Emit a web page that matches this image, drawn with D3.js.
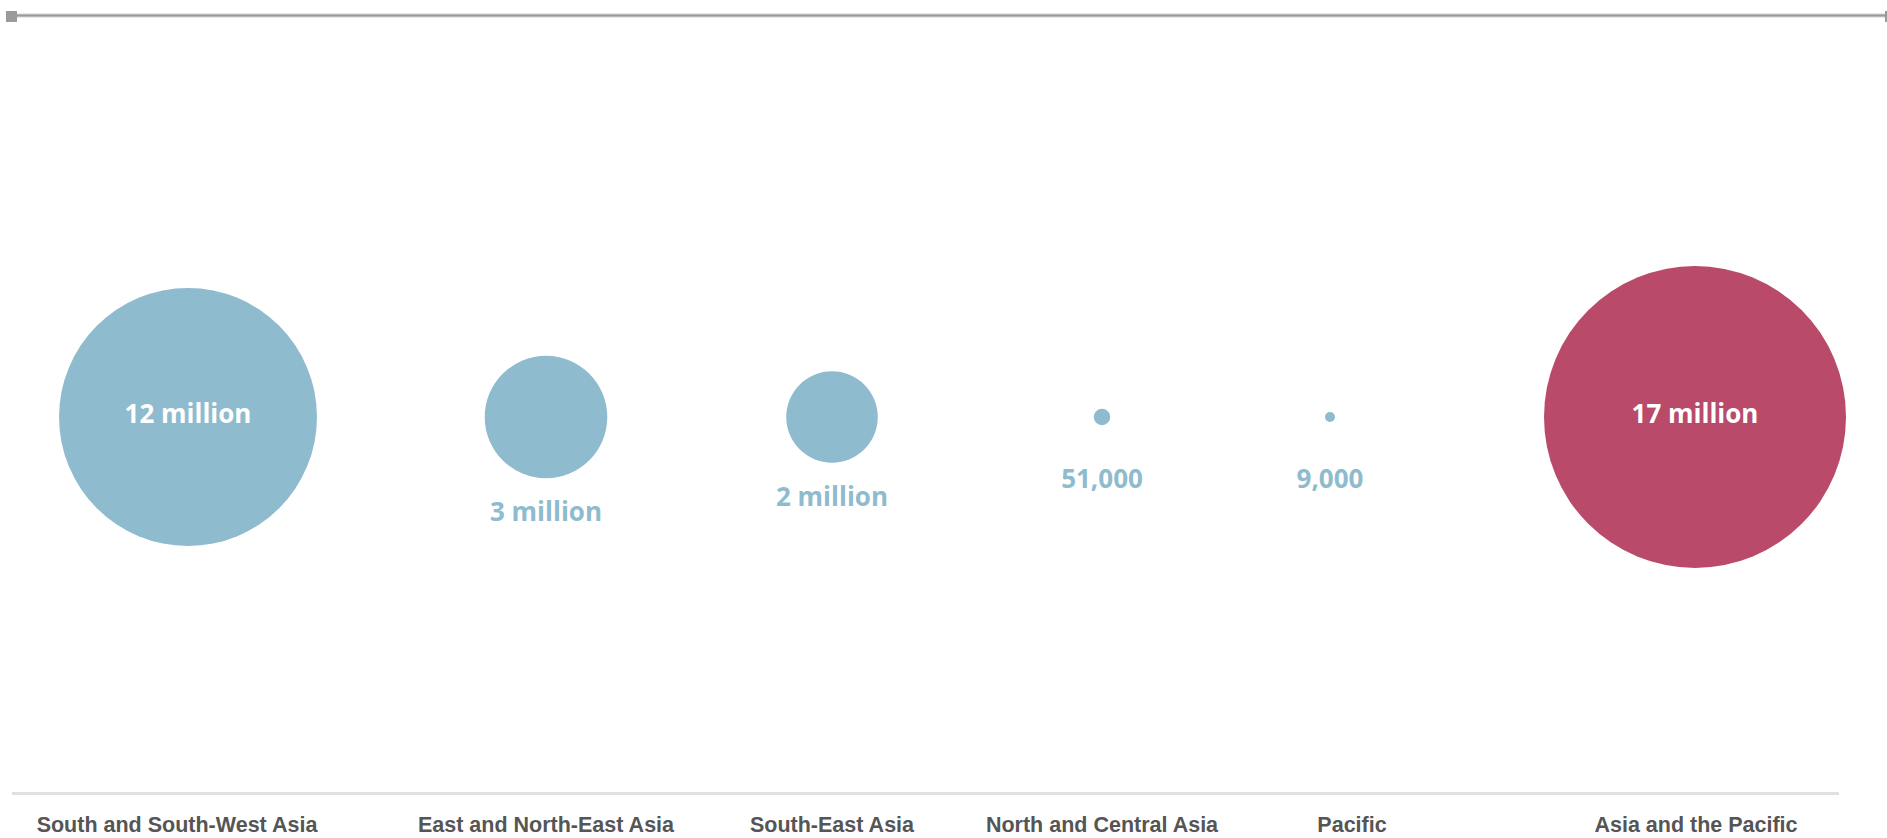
<!DOCTYPE html>
<html>
<head>
<meta charset="utf-8">
<script src="https://cdn.jsdelivr.net/npm/d3@7/dist/d3.min.js"></script>
<style>
  html, body { margin: 0; padding: 0; background: #fff; }
  svg { display: block; }
</style>
</head>
<body>
<svg id="chart" width="1887" height="838"></svg>
<script>
// ---- data ----
const categories = ["South and South-West Asia", "East and North-East Asia", "South-East Asia", "North and Central Asia", "Pacific", "Asia and the Pacific"];
const values = [12400000, 2800000, 1560000, 51000, 9000, 17000000];
const valueLabels = ["12 million", "3 million", "2 million", "51,000", "9,000", "17 million"];
const isTotal = [false, false, false, false, false, true];

// ---- layout ----
const W = 1887, H = 838;
const cy = 417;
const svg = d3.select("#chart");

const xCircle = d3.scaleOrdinal().domain(categories).range([188, 546, 832, 1102, 1330, 1695]);
const xLabel = d3.scaleOrdinal().domain(categories).range([177, 546, 832, 1102, 1352, 1696]);
const rScale = d3.scaleSqrt().domain([0, d3.max(values)]).range([0, 151]);
const rOf = v => Math.max(rScale(v), 5);
const color = d => d ? "#b94a69" : "#8fbbce";

const data = categories.map((c, i) => ({ cat: c, value: values[i], label: valueLabels[i], total: isTotal[i] }));

// top rule
svg.append("line").attr("x1", 12).attr("x2", 1886).attr("y1", 15.5).attr("y2", 15.5)
  .attr("stroke", "#d2d2d2").attr("stroke-width", 4);
svg.append("line").attr("x1", 12).attr("x2", 1886).attr("y1", 15.5).attr("y2", 15.5)
  .attr("stroke", "#9a9a9a").attr("stroke-width", 2);
svg.append("rect").attr("x", 6).attr("y", 11).attr("width", 11).attr("height", 11).attr("fill", "#9a9a9a");
svg.append("rect").attr("x", 1885).attr("y", 11).attr("width", 2).attr("height", 11).attr("fill", "#9a9a9a");

// bottom rule
svg.append("line").attr("x1", 12).attr("x2", 1839).attr("y1", 793.5).attr("y2", 793.5)
  .attr("stroke", "#e0e0e0").attr("stroke-width", 3);

// circles
svg.selectAll("circle.bubble").data(data).enter().append("circle")
  .attr("class", "bubble")
  .attr("cx", d => xCircle(d.cat))
  .attr("cy", cy)
  .attr("r", d => rOf(d.value))
  .attr("fill", d => color(d.total));

// value labels
svg.selectAll("text.val").data(data).enter().append("text")
  .attr("class", "val")
  .attr("x", d => xCircle(d.cat))
  .attr("y", d => {
    const r = rOf(d.value);
    return r > 100 ? cy + 6 : cy + Math.max(r, 28) + 43;
  })
  .attr("text-anchor", "middle")
  .attr("font-family", "'Open Sans', sans-serif")
  .attr("font-weight", 700)
  .attr("font-size", 26)
  .attr("fill", d => rOf(d.value) > 100 ? "#ffffff" : "#8fbbce")
  .text(d => d.label);

// category labels
svg.selectAll("text.cat").data(data).enter().append("text")
  .attr("class", "cat")
  .attr("x", d => xLabel(d.cat))
  .attr("y", 832)
  .attr("text-anchor", "middle")
  .attr("font-family", "'Liberation Sans', Arial, sans-serif")
  .attr("font-weight", 700)
  .attr("font-size", 21.5)
  .attr("fill", "#555555")
  .text(d => d.cat);
</script>
</body>
</html>
